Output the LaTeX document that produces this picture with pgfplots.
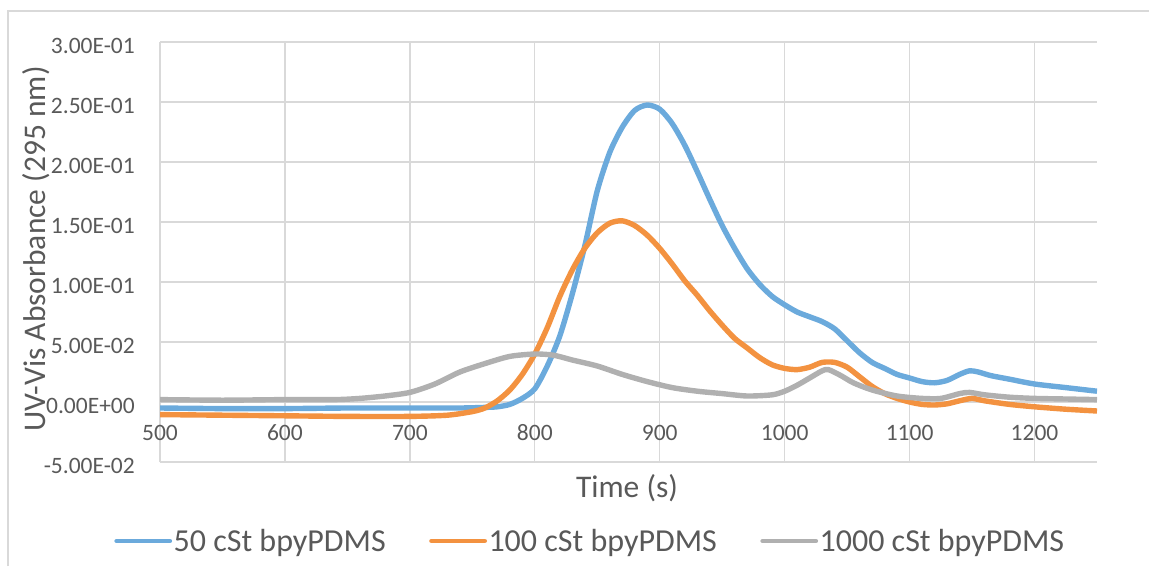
\documentclass[border=0pt]{standalone}
\usepackage{fontspec}
\setmainfont{Carlito}
\usepackage{pgfplots}
\pgfplotsset{compat=1.18}
\definecolor{sblue}{RGB}{107,170,220}
\definecolor{sorange}{RGB}{243,146,64}
\definecolor{sgray}{RGB}{176,176,176}
\definecolor{gridgray}{RGB}{217,217,217}
\definecolor{txt}{RGB}{89,89,89}
\begin{document}
\begin{tikzpicture}[x=1pt,y=1pt]
\useasboundingbox (0,0) rectangle (1149,566);
\draw[gridgray, line width=1.2pt] (8,0) -- (8,555) -- (1149,555);
\begin{axis}[
  at={(160pt,104pt)}, anchor=south west,
  scale only axis, width=937pt, height=420pt,
  xmin=500, xmax=1250, ymin=-0.05, ymax=0.3,
  xtick={500,600,700,800,900,1000,1100,1200},
  ytick={-0.05,0,0.05,0.1,0.15,0.2,0.25,0.3},
  yticklabels={-5.00E-02,0.00E+00,5.00E-02,1.00E-01,1.50E-01,2.00E-01,2.50E-01,3.00E-01},
  /pgf/number format/assume math mode=true,
  xticklabel={\pgfmathprintnumber[fixed,precision=0,1000 sep={}]{\tick}},
  axis line style={draw=none},
  major tick length=0pt,
  tick style={draw=none},
  grid=major,
  major grid style={draw=gridgray, line width=1.3pt},
  ticklabel style={font=\fontsize{23.5}{28}\selectfont, text=txt},
  yticklabel style={anchor=east, inner sep=0pt, xshift=-25pt, yshift=-3.5pt},
  xticklabel style={anchor=center, inner sep=0pt, yshift=29pt},
  xlabel={Time (s)},
  ylabel={UV-Vis Absorbance (295 nm)},
  xlabel style={at={(axis description cs:0.4984,-0.0619)}, anchor=center, font=\fontsize{31.5}{38}\selectfont, text=txt, inner sep=0pt},
  ylabel style={at={(axis description cs:-0.1323,0.507)}, anchor=center, rotate=0, font=\fontsize{31.5}{38}\selectfont, text=txt, inner sep=0pt},
  legend columns=3,
  legend style={at={(axis description cs:0.4589,-0.188)}, anchor=center, draw=none, fill=none,
    inner sep=0pt, font=\fontsize{32}{38}\selectfont, text=txt,
    nodes={inner sep=1.5pt},
    /tikz/every even column/.append style={column sep=42pt}},
  legend image code/.code={\draw[#1, line width=4.8pt, line cap=round] (0pt,0pt) -- (53pt,0pt);},
  every axis plot/.append style={line width=5.4pt, line join=round, smooth, tension=0.45},
]
\addplot[sblue] coordinates {
(500,-0.005) (550,-0.0055) (600,-0.0055) (650,-0.005) (700,-0.005) (740,-0.005) (760,-0.0045)
(770,-0.004) (780,-0.002) (790,0.003) (800,0.011) (810,0.030) (820,0.055) (830,0.090)
(840,0.130) (850,0.176) (860,0.208) (870,0.229) (880,0.243) (890,0.2475) (900,0.244)
(910,0.232) (920,0.214) (930,0.192) (940,0.169) (950,0.147) (960,0.128) (970,0.111)
(980,0.098) (990,0.088) (1000,0.081) (1010,0.075) (1020,0.071) (1030,0.067) (1040,0.061)
(1050,0.051) (1060,0.041) (1070,0.033) (1080,0.028) (1090,0.023) (1100,0.020) (1110,0.017)
(1120,0.016) (1130,0.018) (1140,0.023) (1148,0.026) (1155,0.025) (1165,0.022) (1180,0.019)
(1200,0.015) (1225,0.012) (1250,0.009)
};
\addlegendentry{50 cSt bpyPDMS}
\addplot[sorange] coordinates {
(500,-0.0105) (550,-0.011) (600,-0.0115) (650,-0.012) (700,-0.012) (730,-0.011) (750,-0.008)
(760,-0.005) (770,0.001) (780,0.010) (790,0.023) (800,0.040) (810,0.062) (820,0.088)
(830,0.110) (840,0.128) (850,0.141) (860,0.149) (870,0.151) (880,0.147) (890,0.139)
(900,0.128) (910,0.115) (920,0.101) (930,0.089) (940,0.076) (950,0.064) (960,0.053)
(970,0.045) (980,0.037) (990,0.031) (1000,0.028) (1010,0.027) (1020,0.029) (1030,0.033)
(1040,0.033) (1050,0.029) (1060,0.021) (1070,0.013) (1080,0.007) (1090,0.003) (1100,0.000)
(1110,-0.002) (1120,-0.0025) (1130,-0.0015) (1140,0.001) (1150,0.003) (1160,0.001)
(1180,-0.002) (1200,-0.004) (1225,-0.006) (1250,-0.0075)
};
\addlegendentry{100 cSt bpyPDMS}
\addplot[sgray] coordinates {
(500,0.002) (550,0.0015) (600,0.002) (640,0.002) (660,0.003) (680,0.005) (700,0.008)
(720,0.015) (740,0.025) (760,0.032) (780,0.038) (800,0.040) (815,0.039) (830,0.035)
(850,0.030) (870,0.023) (890,0.017) (910,0.012) (930,0.009) (950,0.007) (970,0.005)
(990,0.006) (1000,0.009) (1010,0.014) (1020,0.020) (1030,0.026) (1035,0.027) (1045,0.022)
(1055,0.016) (1070,0.010) (1090,0.005) (1110,0.003) (1125,0.003) (1140,0.007) (1148,0.008)
(1160,0.006) (1180,0.004) (1200,0.003) (1225,0.0025) (1250,0.002)
};
\addlegendentry{1000 cSt bpyPDMS}
\end{axis}
\end{tikzpicture}
\end{document}
